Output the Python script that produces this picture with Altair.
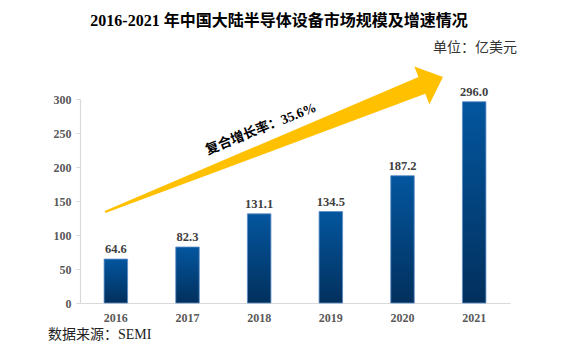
import altair as alt
import pandas as pd

# ---- data ----
years = ["2016", "2017", "2018", "2019", "2020", "2021"]
values = [64.6, 82.3, 131.1, 134.5, 187.2, 296.0]
y_ticks = [0, 50, 100, 150, 200, 250, 300]

title_text = "2016-2021 年中国大陆半导体设备市场规模及增速情况"
unit_text = "单位：亿美元"
source_text = "数据来源：SEMI"
cagr_text = "复合增长率：35.6%"

# annotation anchor (in data units: band index / value)
arrow_x = [2.707]
arrow_y = [233.1]
cagr_x = [2.526]
cagr_y = [255.9]

FONT = "Liberation Serif, Noto Sans CJK SC"
GRAY = "#595959"
AXIS_GRAY = "#d9d9d9"

df = pd.DataFrame({"year": years, "value": values})
arrow_df = pd.DataFrame({"ax": arrow_x, "ay": arrow_y})
cagr_df = pd.DataFrame({"cx": cagr_x, "cy": cagr_y, "t": [cagr_text]})

x_enc = alt.X(
    "year:N",
    sort=years,
    scale=alt.Scale(paddingInner=0, paddingOuter=0),
    axis=alt.Axis(
        title=None, labelAngle=0, ticks=False, domainColor=AXIS_GRAY, domainWidth=1.2,
        labelFont=FONT, labelFontWeight="bold", labelFontSize=12, labelColor=GRAY,
        labelPadding=9,
    ),
)
y_scale = alt.Scale(domain=[0, 300], nice=False, zero=True)
y_axis = alt.Axis(
    title=None, values=y_ticks, grid=False, domainColor=AXIS_GRAY, domainWidth=1.2,
    tickColor=AXIS_GRAY, tickSize=4, labelFont=FONT, labelFontWeight="bold",
    labelFontSize=12, labelColor=GRAY, labelPadding=5,
)
y_enc = alt.Y("value:Q", scale=y_scale, axis=y_axis)

grad = alt.LinearGradient(
    gradient="linear",
    stops=[alt.GradientStop(color="#03569f", offset=0),
           alt.GradientStop(color="#02305d", offset=1)],
    x1=0, x2=0, y1=0, y2=1,
)

bars = alt.Chart(df).mark_bar(
    size=23.5, color=grad, stroke="#5b8dc8", strokeWidth=0.8
).encode(x=x_enc, y=y_enc)

labels = alt.Chart(df).mark_text(
    font=FONT, fontWeight="bold", fontSize=12.5, color="#404040",
    baseline="bottom", dy=-3,
).encode(
    x=alt.X("year:N", sort=years),
    y=y_enc,
    text=alt.Text("value:Q", format=".1f"),
)

arrow_path = ("M -1 -0.006 L 0.875 -0.05 L 0.875 -0.112 L 1 0 "
              "L 0.875 0.112 L 0.875 0.05 L -1 0.006 Z")

ann_x_scale = alt.Scale(domain=[0, 6], nice=False, zero=False)

arrow = alt.Chart(arrow_df).mark_point(
    shape=arrow_path, size=132496, angle=338.2, filled=True,
    fill="#ffc000", opacity=1, strokeWidth=0,
).encode(
    x=alt.X("ax:Q", scale=ann_x_scale, axis=None),
    y=alt.Y("ay:Q", scale=y_scale, axis=y_axis),
)

cagr = alt.Chart(cagr_df).mark_text(
    font=FONT, fontWeight="bold", fontSize=13.5, color="#000000",
    angle=338.2, align="center", baseline="middle",
).encode(
    x=alt.X("cx:Q", scale=ann_x_scale, axis=None),
    y=alt.Y("cy:Q", scale=y_scale, axis=y_axis),
    text="t:N",
)

annotations = alt.layer(arrow, cagr)

unit = alt.Chart(pd.DataFrame({"t": [unit_text]})).mark_text(
    font=FONT, fontSize=14, color="#333333", align="right", baseline="middle",
).encode(x=alt.value(437), y=alt.value(-51), text="t:N")

source = alt.Chart(pd.DataFrame({"t": [source_text]})).mark_text(
    font=FONT, fontSize=14, color="#222222", align="left", baseline="middle",
).encode(x=alt.value(-32), y=alt.value(236), text="t:N")

main = alt.layer(bars, labels)

chart = alt.layer(main, annotations, unit, source).resolve_scale(
    x="independent"
).properties(
    width=430,
    height=204,
    title=alt.TitleParams(
        text=title_text, font=FONT, fontSize=16, fontWeight="bold", color="#000000",
        anchor="middle", frame="group", offset=12, dx=-16,
    ),
    autosize=alt.AutoSizeParams(type="none"),
    padding={"left": 80, "top": 99, "right": 70, "bottom": 49},
).configure(
    background="white", view=alt.ViewConfig(stroke=None)
)

chart.save("out.html", embed_options={"renderer": "svg", "actions": False})
